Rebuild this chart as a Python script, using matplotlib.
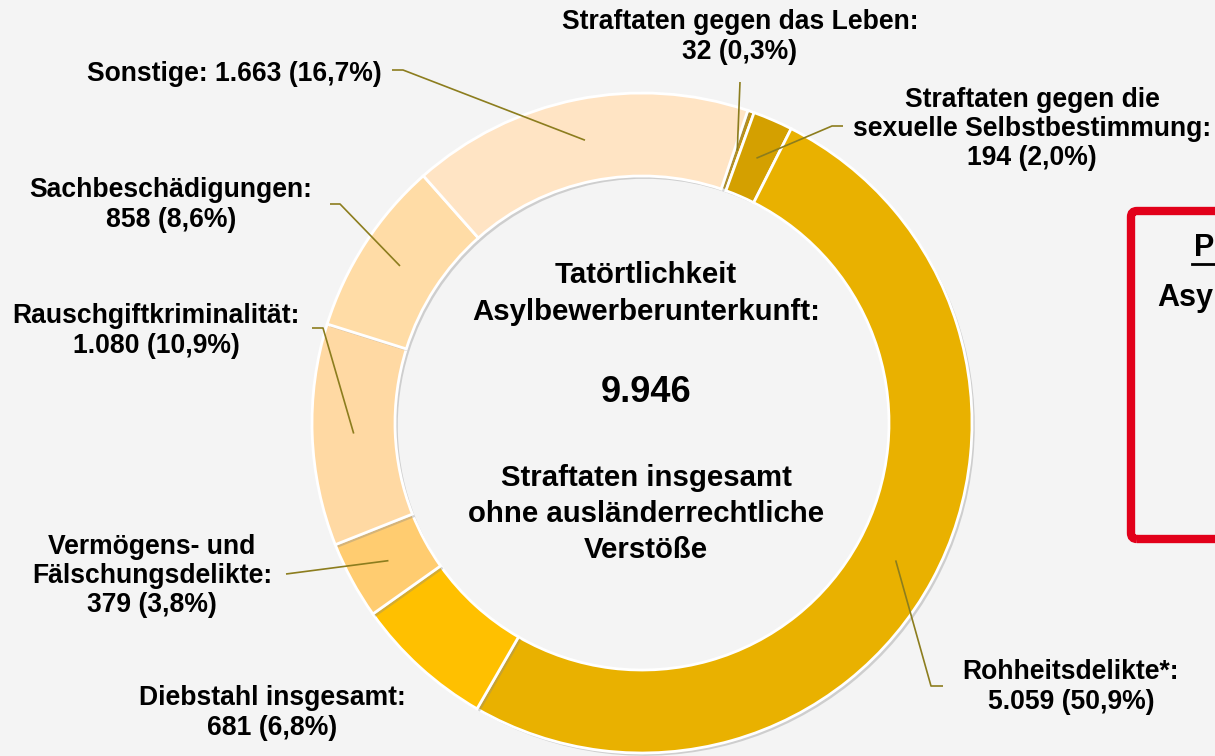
import matplotlib
matplotlib.use("Agg")
from matplotlib import pyplot as plt
from matplotlib import patheffects as pe
from matplotlib.patches import FancyBboxPatch
import numpy as np

plt.rcParams['font.family'] = ['Liberation Sans', 'DejaVu Sans']
plt.rcParams['font.weight'] = 'bold'

# data (clockwise from the top)
categories = ["Straftaten gegen das Leben:",
              "Straftaten gegen die\nsexuelle Selbstbestimmung:",
              "Rohheitsdelikte*:",
              "Diebstahl insgesamt:",
              "Vermögens- und\nFälschungsdelikte:",
              "Rauschgiftkriminalität:",
              "Sachbeschädigungen:",
              "Sonstige:"]
counts = [32, 194, 5059, 681, 379, 1080, 858, 1663]
colors = ["#C39200", "#D4A000", "#E9B100", "#FFC000",
          "#FFCC70", "#FFD9A3", "#FFDCA6", "#FFE4C4"]
centerLines = ["Tatörtlichkeit", "Asylbewerberunterkunft:"]
bottomLines = ["Straftaten insgesamt", "ohne ausländerrechtliche", "Verstöße"]

W, H = 1215, 756
BG = "#F4F4F4"
LEADER = "#8C7D1E"

def Y(y):
    # pixel row (top-down) -> data y
    return H - y

def FmtCount(v):
    return "{:,}".format(v).replace(",", ".")

def FmtPct(v, total):
    return "{:.1f}%".format(v / total * 100).replace(".", ",")

fig = plt.figure(figsize=(W / 100, H / 100), dpi=100, facecolor=BG)
ax = fig.add_axes([0, 0, 1, 1])
ax.set_facecolor(BG)

cx, cy = 642, 423
rOut, ringW = 330, 83
total = sum(counts)

wedges, _ = ax.pie(counts, colors=colors, startangle=71.3, counterclock=False,
                   radius=rOut, center=(cx, Y(cy)),
                   wedgeprops=dict(width=ringW, edgecolor="white", linewidth=2))
for w in wedges:
    w.set_path_effects([pe.SimplePatchShadow(offset=(2, -2), shadow_rgbFace="#888888", alpha=0.35),
                        pe.Normal()])

ax.set_xlim(0, W)
ax.set_ylim(0, H)
ax.set_aspect("equal")
ax.axis("off")

# label text centers (x, y of block middle) and leader start / elbow
labelPos = [(740, 37), (1032, 129), (1071, 687), (272, 713),
            (152, 576), (156, 331), (171, 205), (234, 74)]
leaders = [[(740, 82)], [(843, 126), (832, 126)], [(943, 686), (931, 686)], None,
           [(286, 574)], [(312, 328), (323, 328)], [(330, 204), (340, 204)],
           [(392, 70), (403, 70)]]

rMid = rOut - ringW / 2
for i, w in enumerate(wedges):
    name = categories[i]
    val = "{} ({})".format(FmtCount(counts[i]), FmtPct(counts[i], total))
    sep = " " if name == "Sonstige:" else "\n"
    lx, ly = labelPos[i]
    ax.text(lx, Y(ly), name + sep + val, ha="center", va="center", fontsize=19.1,
            fontweight="bold", linespacing=1.17, color="#000000")
    if leaders[i] is None:
        continue
    ang = np.deg2rad((w.theta1 + w.theta2) / 2)
    px = cx + rMid * np.cos(ang)
    py = Y(cy) + rMid * np.sin(ang)
    xs = [p[0] for p in leaders[i]] + [px]
    ys = [Y(p[1]) for p in leaders[i]] + [py]
    ax.plot(xs, ys, color=LEADER, linewidth=1.2, solid_capstyle="butt", zorder=5)

# center texts
ax.text(646, Y(275), centerLines[0], ha="center", va="center", fontsize=21.2, fontweight="bold")
ax.text(646, Y(312), centerLines[1], ha="center", va="center", fontsize=21.2, fontweight="bold")
ax.text(646, Y(392), FmtCount(total), ha="center", va="center", fontsize=26, fontweight="bold")
for j, line in enumerate(bottomLines):
    ax.text(646, Y(478 + j * 36), line, ha="center", va="center", fontsize=21.2, fontweight="bold")

# red box at the right edge (cut off)
box = FancyBboxPatch((1131, Y(539)), 200, 328, boxstyle="round,pad=0,rounding_size=6",
                     facecolor="none", edgecolor="#E2001A", linewidth=6, clip_on=False)
ax.add_patch(box)
ax.text(1194, Y(248), "P", ha="left", va="center", fontsize=22, fontweight="bold")
ax.plot([1192, 1215], [Y(264), Y(264)], color="black", linewidth=2)
ax.text(1157, Y(298), "Asy", ha="left", va="center", fontsize=22, fontweight="bold")

plt.savefig("out.png", dpi=100, facecolor=BG)
